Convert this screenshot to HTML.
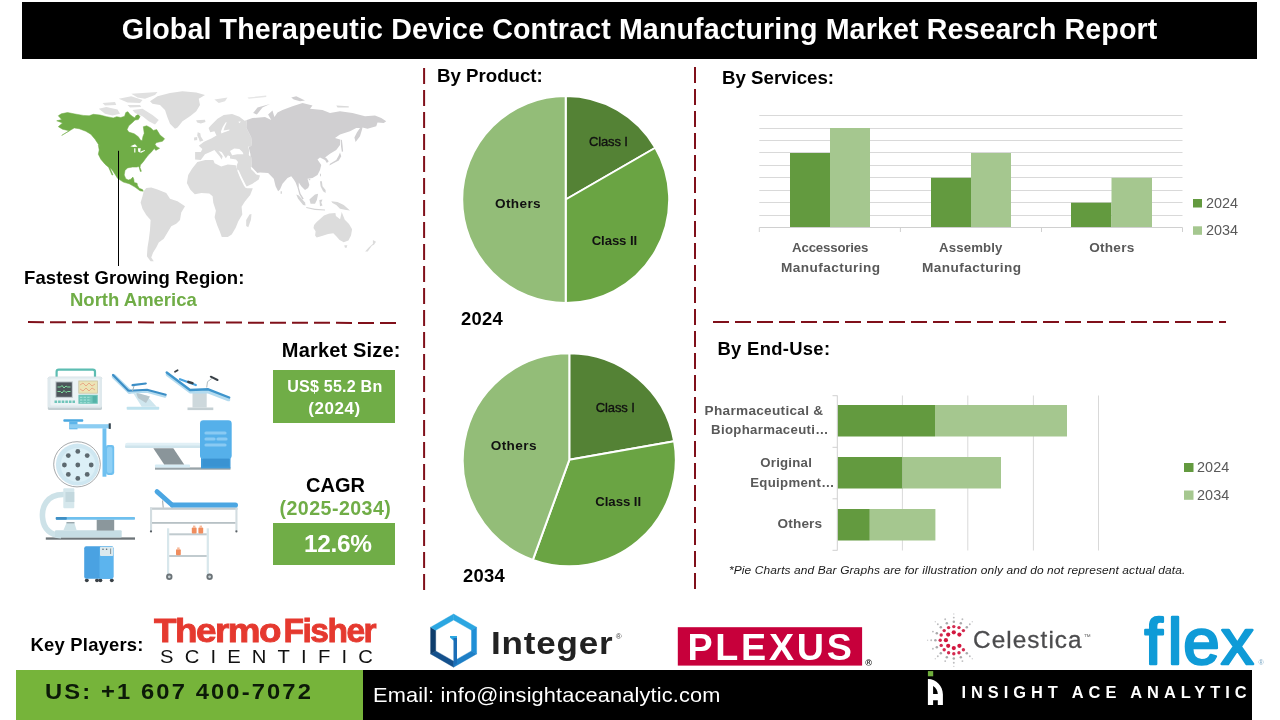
<!DOCTYPE html>
<html lang="en">
<head>
<meta charset="utf-8">
<title>Global Therapeutic Device Contract Manufacturing Market Research Report</title>
<style>
  html,body{margin:0;padding:0;background:#fff;}
  body{width:1280px;height:720px;position:relative;overflow:hidden;font-family:"Liberation Sans",sans-serif;color:#000;}
  .abs{position:absolute;white-space:nowrap;line-height:1;}
  svg{position:absolute;left:0;top:0;overflow:visible;}
  svg text{font-family:"Liberation Sans",sans-serif;}
</style>
</head>
<body>
<div class="abs" id="hdr" style="left:22px;top:2px;width:1235px;height:56.6px;background:#000;"></div>
<div class="abs" id="f_g" style="left:16px;top:669.8px;width:347px;height:50.2px;background:#76b43a;"></div>
<div class="abs" id="f_k" style="left:362.9px;top:669.8px;width:889px;height:50.2px;background:#000;"></div>
<div class="abs" id="box1" style="left:273.2px;top:370px;width:121.5px;height:52.6px;background:#70ad47;"></div>
<div class="abs" id="box2" style="left:273.2px;top:522.6px;width:121.5px;height:42.3px;background:#70ad47;"></div>
<svg id="gfx" width="1280" height="720" viewBox="0 0 1280 720">
  <!-- dashed separators -->
  <g stroke="#80101a" stroke-width="2" fill="none" stroke-dasharray="16 6">
    <line x1="424.1" y1="68.1" x2="424.1" y2="590.1"/>
    <line x1="695" y1="66.9" x2="695" y2="589"/>
    <line x1="28" y1="322.1" x2="396" y2="323"/>
    <line x1="713" y1="322" x2="1226" y2="322"/>
  </g>

  <!-- pie 2024 -->
  <g id="pie1" stroke="#fff" stroke-width="2" stroke-linejoin="round">
    <path d="M565.7,199.5 L565.7,96 A103.5,103.5 0 0 1 655.33,147.75 Z" fill="#548235"/>
    <path d="M565.7,199.5 L655.33,147.75 A103.5,103.5 0 0 1 565.7,303 Z" fill="#6aa443"/>
    <path d="M565.7,199.5 L565.7,303 A103.5,103.5 0 0 1 565.7,96 Z" fill="#93bd78"/>
  </g>
  <!-- pie 2034 -->
  <g id="pie2" stroke="#fff" stroke-width="2" stroke-linejoin="round">
    <path d="M569.3,459.8 L569.3,353.3 A106.5,106.5 0 0 1 674.18,441.31 Z" fill="#548235"/>
    <path d="M569.3,459.8 L674.18,441.31 A106.5,106.5 0 0 1 532.87,559.88 Z" fill="#6aa443"/>
    <path d="M569.3,459.8 L532.87,559.88 A106.5,106.5 0 0 1 569.3,353.3 Z" fill="#93bd78"/>
  </g>

  <!-- services bar chart -->
  <g stroke="#d9d9d9" stroke-width="1" fill="none">
    <path d="M759.3,115.5H1182.5M759.3,128.5H1182.5M759.3,140.5H1182.5M759.3,152.5H1182.5M759.3,165.5H1182.5M759.3,177.5H1182.5M759.3,190.5H1182.5M759.3,202.5H1182.5M759.3,215.5H1182.5"/>
  </g>
  <g>
    <rect x="790" y="153" width="40" height="74.5" fill="#639a3f"/>
    <rect x="830" y="128" width="40" height="99.5" fill="#a5c78f"/>
    <rect x="931" y="177.8" width="40" height="49.7" fill="#639a3f"/>
    <rect x="971" y="153" width="40" height="74.5" fill="#a5c78f"/>
    <rect x="1071" y="202.7" width="40.5" height="24.8" fill="#639a3f"/>
    <rect x="1111.5" y="177.8" width="40.5" height="49.7" fill="#a5c78f"/>
  </g>
  <path d="M759.3,232V227.5H1182.5V232M900.4,227.5V232M1041.5,227.5V232" stroke="#d0d0d0" stroke-width="1" fill="none"/>
  <rect x="1193" y="199" width="9" height="8.5" fill="#639a3f"/>
  <rect x="1193" y="226.3" width="9" height="8.5" fill="#a5c78f"/>

  <!-- end-use bar chart -->
  <path d="M902.4,395.5V550.5M967.8,395.5V550.5M1033.4,395.5V550.5M1098.5,395.5V550.5" stroke="#d9d9d9" stroke-width="1" fill="none"/>
  <g>
    <rect x="837.5" y="405" width="97.5" height="31.5" fill="#639a3f"/>
    <rect x="935" y="405" width="132" height="31.5" fill="#a5c78f"/>
    <rect x="837.5" y="457" width="65" height="31.5" fill="#639a3f"/>
    <rect x="902.5" y="457" width="98.5" height="31.5" fill="#a5c78f"/>
    <rect x="837.5" y="509" width="32.3" height="31.5" fill="#639a3f"/>
    <rect x="869.8" y="509" width="65.6" height="31.5" fill="#a5c78f"/>
  </g>
  <path d="M837.3,395.5V550.5M832.5,395.7H837.3M832.5,447.3H837.3M832.5,498.8H837.3M832.5,550.3H837.3" stroke="#d0d0d0" stroke-width="1" fill="none"/>
  <rect x="1184" y="463" width="9.5" height="9" fill="#639a3f"/>
  <rect x="1184" y="490.5" width="9.5" height="9.3" fill="#a5c78f"/>
</svg>
<svg id="map" width="1280" height="720" viewBox="0 0 1280 720">
<path d="M58.3,115.8 L61.3,113.8 L67.5,112.5 L75,114 L83.3,115.4 L89.2,115.8 L93.3,114.3 L100,115 L106.7,116.7 L113.3,117.9 L116.7,116.7 L120.8,117.5 L124.6,116.25 L125.8,112.5 L127.9,111.7 L130,114.6 L132.9,116.7 L135,117.9 L135.8,115.8 L138.3,114.6 L140,116.7 L138.3,119.6 L135,120 L132.5,122.5 L128.75,125.8 L127.1,129.6 L128.75,132.1 L134.2,133.75 L138.3,136.7 L140.4,140 L142.1,140.8 L142.9,136.7 L144.2,133.3 L143.3,126.7 L146.7,125.8 L150.8,127.9 L153.3,130.4 L156.7,129.6 L160,135 L164.6,138.75 L162.5,141.25 L156.7,142.5 L155,144.2 L156.7,146.7 L159.6,148.3 L155.8,150.4 L154.2,148.6 L151.7,151.7 L148.3,155 L145.8,158.3 L143.3,161.7 L140.4,165 L140,167.5 L141.4,171.3 L140.3,171.5 L138.9,166.4 L136.7,167.1 L132.5,167.1 L127.5,167.9 L125,170.4 L124.2,175 L125.8,178.75 L128.3,180 L130.8,179.2 L132.9,177.1 L133.75,179.2 L134.2,182.5 L137.1,183.3 L137.5,185.4 L139.2,188.3 L142.5,189.6 L143.3,191.25 L140,190.8 L135,187.1 L129.2,183.75 L123.3,182.1 L117.5,178.3 L115,174.2 L111.7,169.2 L109.6,167.5 L110.3,168.6 L113,174.9 L112,175 L108.6,167.3 L107.9,166.7 L105,164.2 L100.8,159.2 L98.3,154.2 L99.2,150 L98.3,145 L100,146.7 L98.3,144.2 L95,139.2 L90.8,134.2 L85.8,131.25 L79.2,128.75 L74.2,127.9 L70.8,130 L61.7,135.4 L69.2,130.8 L62.5,129.2 L58.3,126.7 L62.5,122.9 L56.7,120.8 L61.7,119.6Z" fill="#70ad47" stroke="#70ad47" stroke-width="0.5" stroke-linejoin="round"/>
<path d="M130.4,146.25 L135,144.2 L137.5,146.7 L133.3,147.1Z" fill="#fff"/>
<path d="M134.2,148.3 L135.4,148.3 L135.4,152.5 L134.2,152.5Z" fill="#fff"/>
<path d="M137.9,148.3 L140.8,148.3 L140,152.5 L138.3,151.7Z" fill="#fff"/>
<path d="M140,151.7 L144.6,150 L145,150.8 L140.8,152.9Z" fill="#fff"/>
<path d="M150,101.25 L157.5,96.25 L170,93.1 L182.5,91.25 L196.25,92.5 L205,95 L198.75,98.75 L200,105 L196.25,111.25 L190,116.25 L182.5,121.25 L177.5,127.5 L175,128.75 L170,123.75 L167.5,117.5 L165,110 L160,105 L152.5,103.75Z" fill="#dcdcdc"/>
<path d="M131.25,93.75 L157.5,91.9 L155,95 L145,98.75 L137.5,97.5Z" fill="#e0e0e0"/>
<path d="M132.5,110 L142.5,108.75 L152.5,115 L158.75,120 L155,124.4 L148.75,121.25 L142.5,116.25 L135,113.1Z" fill="#e0e0e0"/>
<path d="M98.75,108.75 L106.25,106.9 L117.5,109.4 L120,113.75 L112.5,115.6 L105,113.75Z" fill="#e0e0e0"/>
<path d="M102.5,103.1 L115,101.9 L116.25,105 L105,105.6Z" fill="#e0e0e0"/>
<path d="M118.75,98.75 L131.25,96.25 L142.5,100 L140,103.1 L127.5,102.5Z" fill="#e0e0e0"/>
<path d="M127.5,105 L140,105 L141.25,106.9 L130,107.5Z" fill="#e0e0e0"/>
<path d="M196.1,120.3 L205,119.8 L205.5,121.9 L200.8,123.4 L197.2,122.4Z" fill="#dcdcdc"/>
<path d="M214.4,99.4 L227.5,97.5 L225,101.25 L218.75,103.1Z" fill="#e2e2e2"/>
<path d="M208.6,128.1 L211.25,125 L217.5,118.75 L223.75,115.1 L232.1,114.1 L239.4,116.7 L244.6,120.8 L246.9,120 L246.25,127.5 L251.25,137.5 L251.9,145 L248.75,147.5 L251.25,157.5 L251.9,167.5 L250.6,167.5 L256.25,174.4 L260,175.6 L258.75,179.4 L252.5,183.75 L245.6,186.9 L243.75,183.75 L240,176.25 L237.7,171.1 L236.5,166.2 L238,162 L236,159.5 L230,158.5 L230,156.25 L227.9,155.2 L225.8,158.3 L221.7,152.1 L218.5,151 L222.7,156.25 L221.7,159.4 L219.6,156.25 L214.4,150 L210.2,152.1 L205,154.2 L200.8,159.9 L195.1,159.4 L195.1,152.1 L200.8,152.1 L202.4,149 L198.75,145.8 L204,141.7 L211.25,138.5 L216.5,135.4 L214.4,131.25 L210.2,132.3Z" fill="#dcdcdc"/>
<path d="M225.5,122.4 L226.8,122.2 L224.7,127 L223.5,130.4 L229.5,129.5 L229.3,130.6 L223.6,132.4 L221.4,133.6 L220.9,131.6 L222.7,127Z" fill="#fff"/>
<path d="M238.3,121.7 L240.8,121.3 L239.6,123.2Z" fill="#fff"/>
<path d="M230,151 L234.2,148.4 L239.4,149 L242.5,152.1 L243.5,154.2 L237.3,154.2 L232.1,155.2Z" fill="#fff"/>
<path d="M248.2,146.5 L250.3,147 L250.8,152 L250.2,156.5 L248.8,155 L249.2,151Z" fill="#fff"/>
<path d="M197.7,132.3 L200.3,133.3 L200.8,136.5 L203.4,140.6 L199.8,141.7 L198.75,138.5 L197.2,135.4Z" fill="#dcdcdc"/>
<path d="M194.1,137.5 L197.2,137 L197.2,140.1 L194.1,140.6Z" fill="#dcdcdc"/>
<path d="M253.1,113.1 L257.5,107.5 L270,104 L262.5,107.5 L256.9,114.4Z" fill="#d0cfd1"/>
<path d="M291.25,97.5 L296.25,96.25 L305,100.6 L300,101.25 L293.75,99.4Z" fill="#d0cfd1"/>
<path d="M336.25,105.6 L348.75,106.25 L348.75,107.5 L337.5,107.5Z" fill="#dadada"/>
<path d="M247.5,97.5 L266.25,95.6 L266.25,96.9 L248.75,98.75Z" fill="#e6e6e6"/>
<path d="M246.9,120 L252.5,118.1 L265,116.9 L271.25,120 L268.1,114.4 L272.5,110.6 L274.4,116.9 L277.5,112.5 L282.5,110 L292.5,106.25 L302.5,103.1 L312.5,105.6 L310,108.75 L322.5,110 L330,113.1 L340,111.25 L352.5,113.1 L365,116.25 L375,115.6 L381.25,118.1 L386.25,121.25 L383.75,123.1 L377.5,122.5 L376.25,126.25 L367.5,128.75 L362.5,127.5 L361.9,130 L360,136.25 L355.6,141.9 L354.4,137.5 L356.9,132.5 L360,128.1 L356.25,128.1 L350,131.25 L340,134.4 L335,138.1 L340,139.4 L340,145 L336.25,150 L330,153.75 L325,157.5 L326.25,158.1 L328.75,161.25 L326.9,163.1 L325,160 L320,157.5 L317.5,159.4 L321.25,165 L320,170 L317.5,175 L312.5,178 L307.5,178.75 L309.4,185 L308.1,188.1 L305,190 L301.25,186.25 L298.75,182.5 L298.75,187.5 L300.6,193.75 L303.75,198.75 L302.5,199.4 L299.4,194.4 L297.5,187.5 L295.6,182.5 L293.75,179.4 L291.25,176.25 L287.5,178.1 L282.5,183.75 L280,189.4 L278.1,191.25 L275.6,186.25 L273.75,178.75 L270.6,175.6 L268.1,173.1 L260,172.5 L256.5,173 L252.5,168.75 L251.9,167.5 L251.25,157.5 L248.75,147.5 L251.9,145 L251.25,137.5 L246.25,127.5Z" fill="#d0cfd1"/>
<path d="M340.6,139.4 L341.9,140 L342.5,145 L343.1,151.25 L341.9,151.9 L341,146.25Z" fill="#d0cfd1"/>
<path d="M340,152.5 L341.25,156.25 L338.75,160.6 L332.5,163.75 L329.4,165.6 L330,163.75 L336.25,160 L338.75,155.6Z" fill="#d0cfd1"/>
<path d="M280.6,191.25 L281.9,191.25 L281.9,193.75 L280.6,193.75Z" fill="#d4d4d5"/>
<path d="M296.25,194.4 L298.75,195.6 L305,202.5 L305.6,205.6 L303.1,205 L298.1,198.75Z" fill="#d4d4d5"/>
<path d="M306.25,206.9 L315,208.75 L325,209.4 L325,210.6 L315,210 L306.25,208.1Z" fill="#d4d4d5"/>
<path d="M309.4,199.4 L315,194.4 L318.1,193.75 L316.9,200 L315,203.75 L310.6,203.75Z" fill="#d4d4d5"/>
<path d="M319.4,200 L322.5,199.4 L321.25,202.5 L322.5,205.6 L320,206.25Z" fill="#d4d4d5"/>
<path d="M320,181.25 L321.9,181.25 L322.5,186.25 L325.6,190 L325.6,193.1 L323.1,191.25 L320.6,186.25Z" fill="#d4d4d5"/>
<path d="M320,173.75 L321,173.75 L321,176.25 L320,176.25Z" fill="#d4d4d5"/>
<path d="M308.75,178.75 L310.25,178.75 L310.25,180.25 L308.75,180.25Z" fill="#d4d4d5"/>
<path d="M331.25,201.25 L337.5,201.9 L343.75,205 L350,210.6 L346.25,210 L340,208.75 L336.25,205 L332.5,203.1Z" fill="#d8d8d8"/>
<path d="M314.1,225 L316.7,221.9 L324,215.6 L329.2,213.5 L335.4,213 L335.9,216.1 L340.1,219.3 L341.7,212 L344.8,219.8 L349,224 L352.1,229.2 L351,235.4 L348.4,240.6 L343.75,242.2 L339.6,240.1 L336.5,236.5 L333.3,233.3 L328.1,233.9 L321.9,235.9 L316.7,237.5 L315.1,235.4 L315.6,231.25 L313.5,228.1Z" fill="#dcdcdc"/>
<path d="M344.3,245.3 L347.4,245.3 L346.4,247.9 L344.8,247.4Z" fill="#dcdcdc"/>
<path d="M372.9,240.1 L376,241.7 L374,244.8 L371.9,245.8 L367.7,251.6 L365.1,251.6 L368.75,247.4 L372.9,243.75Z" fill="#dcdcdc"/>
<path d="M143.75,191.25 L146.25,188.1 L151.25,187.5 L157.5,189.4 L166.25,193.1 L170,198.75 L177.5,201.25 L185,206.25 L181.25,212.5 L180,220 L176.25,223.75 L171.25,226.25 L167.5,232.5 L163.75,238.75 L158.75,242.5 L156.25,247.5 L153.1,252.5 L151.25,257.5 L153.75,261.25 L150.6,261.25 L146.9,256.25 L147.5,247.5 L148.75,240 L150,230 L150.6,220 L146.25,215 L142.5,208.75 L140.6,202.5 L142.5,196.25Z" fill="#dcdcdc"/>
<path d="M197.4,161.9 L205.3,159.9 L213.3,159.9 L214.6,163.2 L221.2,166.5 L227.8,164.5 L235.7,165.2 L237.7,171.1 L241,177.7 L244.9,185.6 L246.9,188.3 L252.8,188.3 L250.2,194.9 L244.9,201.5 L241.6,206.7 L242.3,214.6 L238.3,221.2 L235.7,227.8 L231.7,234.4 L227.8,237.1 L221.8,237.1 L219.9,231.8 L217.2,225.2 L214.6,217.3 L215.9,210.7 L213.3,202.8 L212.6,196.2 L209.3,193.5 L201.4,192.9 L194.8,194.2 L190.2,189.6 L186.9,183 L188.2,175.1 L192.2,168.5Z" fill="#dcdcdc"/>
<path d="M249.5,214.6 L251.5,214 L250.9,219.9 L248.2,227.2 L246.2,225.9 L246.2,219.9Z" fill="#dcdcdc"/>
<path d="M237.2,170.5 L238.6,170 L241.8,177 L245.8,185 L247.2,187.6 L246,188.2 L244,185.8 L240.2,178Z" fill="#fff"/>
<path d="M250.8,167.2 L252.2,167.6 L257,172.6 L256.2,174 L251.5,169.5Z" fill="#fff"/>
<line x1="118.5" y1="150.8" x2="118.5" y2="266" stroke="#000" stroke-width="1"/>
</svg>
<svg id="devices" width="1280" height="720" viewBox="0 0 1280 720">
  <!-- patient monitor -->
  <g>
    <rect x="56.6" y="369.6" width="38.4" height="10" rx="2.2" fill="none" stroke="#5dbdb2" stroke-width="2.2"/>
    <rect x="47.8" y="376.7" width="54.2" height="33.4" rx="1.6" fill="#c3ced2"/>
    <rect x="47.8" y="376.7" width="54.2" height="31" rx="1.6" fill="#dfe9ed"/>
    <rect x="50.5" y="378.6" width="49" height="27" rx="1" fill="#ecf3f5"/>
    <rect x="55.4" y="381.4" width="17.4" height="16.4" fill="#b9c3c7"/>
    <rect x="56.4" y="382.4" width="15.4" height="14.4" fill="#4d545a"/>
    <path d="M57.5,387h3l1.5,-1.5l2,2.5l2,-2l1.5,1h3M57.5,391.5h3l1.5,1.5l2,-2.5l2,2l1.5,-1h3" stroke="#7fe0a0" stroke-width="1" fill="none"/>
    <rect x="78.4" y="380.6" width="19.4" height="13" fill="#c9c3a0"/>
    <rect x="79.2" y="381.4" width="17.8" height="11.4" fill="#ece4b6"/>
    <path d="M80,385l3,-2l3,3l3,-3l3,3l3,-2M80,389l3,2l3,-3l3,3l3,-3l3,2" stroke="#e79a7a" stroke-width="0.8" fill="none"/>
    <rect x="78.4" y="394.8" width="19.4" height="9" fill="#6fc5ba"/>
    <path d="M80,397.3h11M80,400h11M80,402.6h11" stroke="#9adcd3" stroke-width="1.3" stroke-dasharray="2.4 1.2"/>
    <rect x="92.6" y="396" width="4.2" height="6.8" fill="#54b3a8"/>
    <path d="M54.5,401.7h20.5" stroke="#6fc5ba" stroke-width="2.6" stroke-dasharray="2.6 1"/>
  </g>
  <!-- dental chair -->
  <g>
    <rect x="126.7" y="406.7" width="32.5" height="3" rx="0.8" fill="#bfe2ee"/>
    <path d="M133.3,393.3L146.7,395.8L156.7,406.7H141.7Z" fill="#cfe6ee"/>
    <path d="M136,392.5L150,396.5L146,403L138,398Z" fill="#b7c7cd"/>
    <path d="M114,376.5L129.5,391.5" stroke="#b4dbef" stroke-width="4.6" stroke-linecap="round"/>
    <path d="M113,375L128.5,390.8" stroke="#3c8ec6" stroke-width="2.2" stroke-linecap="round"/>
    <path d="M129.5,392.3L147,391.3L165,396.3" stroke="#b4dbef" stroke-width="3" fill="none" stroke-linecap="round" stroke-linejoin="round"/>
    <path d="M129,390.8L147,389.8L165.8,394.8" stroke="#3c8ec6" stroke-width="2" fill="none" stroke-linecap="round" stroke-linejoin="round"/>
    <path d="M132.5,385.2L145.8,383.5" stroke="#3c8ec6" stroke-width="2.2" stroke-linecap="round"/>
    <path d="M134,386L132.5,391" stroke="#9fb3bb" stroke-width="1"/>
  </g>
  <!-- gynecological chair -->
  <g>
    <rect x="187.5" y="407.5" width="25.8" height="2.6" fill="#c4cfd3"/>
    <rect x="192.5" y="390.8" width="14.2" height="16.8" fill="#cdd8dc"/>
    <path d="M167.5,374.5L190.5,391.8H208.5L228.5,399.5" stroke="#b4dbef" stroke-width="3.6" fill="none" stroke-linejoin="round" stroke-linecap="round"/>
    <path d="M166.7,372.5L190,390L208.3,389.3L229.2,397.5" stroke="#3f95cc" stroke-width="2.4" fill="none" stroke-linejoin="round" stroke-linecap="round"/>
    <path d="M180,379.2L195.8,385" stroke="#49a2de" stroke-width="2.2" stroke-linecap="round"/>
    <path d="M188.3,381.8L192.5,383.2" stroke="#3a4248" stroke-width="2.4" stroke-linecap="round"/>
    <path d="M175,371.8L177.6,370.2" stroke="#3a4248" stroke-width="1.8" stroke-linecap="round"/>
    <path d="M206.7,387.5L207.5,381.7L212.5,378" stroke="#a9b4b8" stroke-width="0.9" fill="none"/>
    <path d="M210.8,376.7L217.5,380" stroke="#3a4248" stroke-width="2" stroke-linecap="round"/>
  </g>
  <!-- surgical lamp -->
  <g>
    <rect x="63.3" y="419.2" width="20" height="2.6" rx="1" fill="#4aa8e0"/>
    <rect x="69.2" y="421.5" width="8.3" height="7.8" fill="#5db5ea"/>
    <rect x="69.2" y="424.2" width="40.5" height="4.2" fill="#8ccdf2"/>
    <rect x="108.7" y="423.3" width="2.1" height="5.6" fill="#33434d"/>
    <rect x="102.5" y="428.3" width="3.9" height="48.4" fill="#6fc0f0"/>
    <rect x="105.8" y="445" width="8.4" height="30" rx="2.4" fill="#6fc0f0"/>
    <rect x="107" y="447" width="5.4" height="26" rx="2" fill="#8fd0f5"/>
    <ellipse cx="77" cy="464.3" rx="23.3" ry="22.6" fill="#fff" stroke="#6a6f72" stroke-width="0.6"/>
    <ellipse cx="77.5" cy="464.6" rx="21.6" ry="21" fill="#cfe7f1"/>
    <ellipse cx="78" cy="465" rx="17.5" ry="17" fill="#dcf0f7"/>
    <g fill="#5d696f">
      <circle cx="77.8" cy="465" r="2.4"/><circle cx="77.8" cy="451.4" r="2.4"/><circle cx="77.8" cy="478.4" r="2.4"/>
      <circle cx="64.4" cy="465" r="2.4"/><circle cx="91.2" cy="465" r="2.4"/>
      <circle cx="68.3" cy="455.6" r="2.4"/><circle cx="87.2" cy="455.6" r="2.4"/>
      <circle cx="68.3" cy="474.4" r="2.4"/><circle cx="87.2" cy="474.4" r="2.4"/>
    </g>
  </g>
  <!-- scanner with table -->
  <g>
    <rect x="155" y="467.4" width="75.5" height="2.3" fill="#98a3a8"/>
    <rect x="155" y="464.6" width="35" height="2.9" rx="0.8" fill="#d6ecf5"/>
    <path d="M153.3,448.2H173.3L184.2,464.4H164.2Z" fill="#8a959a"/>
    <rect x="125" y="442.8" width="76" height="5.2" rx="2.4" fill="#e1f0f6"/>
    <rect x="125" y="445.6" width="76" height="2.4" rx="1.2" fill="#cfe4ec"/>
    <rect x="201" y="456" width="29.5" height="12.4" fill="#3e9ad9"/>
    <rect x="200" y="420.3" width="31.7" height="38.6" rx="3.4" fill="#55b0ea"/>
    <path d="M206,433h19M206,439h8M218,439h8M206,445h19" stroke="#9bd3f6" stroke-width="3.2" stroke-linecap="round" opacity=".75"/>
    <rect x="203" y="458.6" width="26" height="8" fill="#3a93d2"/>
  </g>
  <!-- C-arm x-ray -->
  <g>
    <rect x="45.8" y="537.4" width="89.2" height="2.3" fill="#6d7478"/>
    <path d="M64,494.5C46,494 41.5,508 42.6,518C43.5,529 51,535.5 61,535.6" stroke="#cde2e8" stroke-width="5.6" fill="none" stroke-linecap="butt"/>
    <rect x="55" y="530.3" width="66.7" height="7.2" rx="1" fill="#c6dde4"/>
    <path d="M63.3,530.4L66.7,522.5H74.2L76.7,530.4Z" fill="#cfe3e8"/>
    <rect x="66.5" y="522" width="8" height="1.4" fill="#9aa7ac"/>
    <rect x="96.7" y="519.6" width="17.5" height="11" fill="#8b979c"/>
    <rect x="55.8" y="517" width="79.2" height="2.8" rx="0.8" fill="#6fc0ee"/>
    <rect x="55.8" y="517" width="11" height="2.8" rx="0.8" fill="#3f8fc4"/>
    <rect x="63.3" y="488.3" width="11" height="20" rx="1" fill="#d5e7ec"/>
    <rect x="65.5" y="492" width="8.8" height="10" fill="#c3d8de"/>
  </g>
  <!-- oxygen concentrator -->
  <g>
    <g fill="#3a4146"><circle cx="86.8" cy="580.3" r="1.9"/><circle cx="97" cy="580.3" r="1.9"/><circle cx="100.4" cy="580.3" r="1.9"/><circle cx="111.8" cy="580.3" r="1.9"/></g>
    <rect x="84.2" y="546.3" width="29.2" height="32.4" rx="2" fill="#4aa2e2"/>
    <rect x="99.5" y="546.3" width="13.9" height="32.4" rx="2" fill="#5cb4ee"/>
    <rect x="100" y="546.8" width="13.2" height="9.2" rx="1" fill="#dbe9ee"/>
    <circle cx="103" cy="549.2" r="0.8" fill="#5d696f"/><circle cx="106.6" cy="549.2" r="0.8" fill="#5d696f"/>
    <path d="M110.6,548.5V554" stroke="#7d8a90" stroke-width="0.9"/>
  </g>
  <!-- examination couch -->
  <g>
    <rect x="150" y="507.5" width="87.5" height="2.3" fill="#c4ccd0"/>
    <rect x="150" y="507.5" width="2.1" height="23.4" fill="#d3dde1"/>
    <rect x="235.4" y="507.5" width="2.1" height="23.4" fill="#d3dde1"/>
    <rect x="152" y="522" width="83.4" height="1.8" fill="#b7c1c5"/>
    <circle cx="151" cy="531.4" r="1.1" fill="#5a6166"/><circle cx="236.4" cy="531.4" r="1.1" fill="#5a6166"/>
    <path d="M162.6,500.5L163.2,507.5" stroke="#8f9aa0" stroke-width="0.9"/>
    <path d="M157,491.6L171.8,504.8" stroke="#4ba6e2" stroke-width="4.8" stroke-linecap="round"/>
    <rect x="170" y="502.4" width="68" height="5.2" rx="2.6" fill="#4ba6e2"/>
  </g>
  <!-- trolley -->
  <g>
    <rect x="167" y="528.3" width="2.2" height="46" fill="#d8e7ec"/>
    <rect x="206.7" y="528.3" width="2.2" height="46" fill="#d8e7ec"/>
    <rect x="169.2" y="533.3" width="37.5" height="2" fill="#c1cbcf"/>
    <rect x="169.2" y="555" width="37.5" height="2" fill="#c1cbcf"/>
    <g fill="#f08d5e">
      <rect x="191.8" y="527.4" width="4.8" height="6" rx="1"/><rect x="198.4" y="527.4" width="4.8" height="6" rx="1"/><rect x="176" y="549.2" width="4.8" height="6" rx="1"/>
    </g>
    <g fill="#f7b99a">
      <rect x="193" y="525.6" width="2.4" height="2.2"/><rect x="199.6" y="525.6" width="2.4" height="2.2"/><rect x="177.2" y="547.4" width="2.4" height="2.2"/>
    </g>
    <circle cx="169.3" cy="576.8" r="3.2" fill="#6b7377"/><circle cx="169.3" cy="576.8" r="1.4" fill="#c9d2d6"/>
    <circle cx="209.6" cy="576.8" r="3.2" fill="#6b7377"/><circle cx="209.6" cy="576.8" r="1.4" fill="#c9d2d6"/>
  </g>
</svg>

<svg id="logos" width="1280" height="720" viewBox="0 0 1280 720">
<path d="M453.6,614.0 L476.6,627.3 L471.5,630.3 L453.6,620.0Z" fill="#2ba6e1" stroke="#2ba6e1" stroke-width="0.4"/>
<path d="M476.6,627.3 L476.6,653.9 L471.5,650.9 L471.5,630.3Z" fill="#1f8fd6" stroke="#1f8fd6" stroke-width="0.4"/>
<path d="M476.6,653.9 L453.6,667.2 L453.6,661.2 L471.5,650.9Z" fill="#1e7fc6" stroke="#1e7fc6" stroke-width="0.4"/>
<path d="M453.6,667.2 L430.6,653.9 L435.7,650.9 L453.6,661.2Z" fill="#14508c" stroke="#14508c" stroke-width="0.4"/>
<path d="M430.6,653.9 L430.6,627.3 L435.7,630.3 L435.7,650.9Z" fill="#0e3d6c" stroke="#0e3d6c" stroke-width="0.4"/>
<path d="M430.6,627.3 L453.6,614.0 L453.6,620.0 L435.7,630.3Z" fill="#2ba6e1" stroke="#2ba6e1" stroke-width="0.4"/>
<path d="M450,636H457V640.4H453.4L450,637.6Z" fill="#2ba6e1"/>
<path d="M453.5,638H457V663.5L453.5,665.5Z" fill="#1b6db6"/>
<rect x="677.8" y="627.2" width="184.3" height="38.4" fill="#c7003b"/>
<g fill="#d2173f"><circle cx="959.4" cy="634.6" r="2.1"/><circle cx="953.8" cy="632.3" r="2.1"/><circle cx="948.2" cy="634.6" r="2.1"/><circle cx="945.9" cy="640.2" r="2.1"/><circle cx="948.2" cy="645.8" r="2.1"/><circle cx="953.8" cy="648.1" r="2.1"/><circle cx="959.4" cy="645.8" r="2.1"/></g>
<g fill="#d42a50"><circle cx="963.4" cy="630.6" r="1.7"/><circle cx="959.0" cy="627.6" r="1.7"/><circle cx="953.8" cy="626.6" r="1.7"/><circle cx="948.6" cy="627.6" r="1.7"/><circle cx="944.2" cy="630.6" r="1.7"/><circle cx="941.2" cy="635.0" r="1.7"/><circle cx="940.2" cy="640.2" r="1.7"/><circle cx="941.2" cy="645.4" r="1.7"/><circle cx="944.2" cy="649.8" r="1.7"/><circle cx="948.6" cy="652.8" r="1.7"/><circle cx="953.8" cy="653.8" r="1.7"/><circle cx="959.0" cy="652.8" r="1.7"/><circle cx="963.4" cy="649.8" r="1.7"/></g>
<g fill="#a9a9ab"><circle cx="966.8" cy="627.2" r="1.25"/><circle cx="960.8" cy="623.2" r="1.25"/><circle cx="953.8" cy="621.8" r="1.25"/><circle cx="946.8" cy="623.2" r="1.25"/><circle cx="940.8" cy="627.2" r="1.25"/><circle cx="936.8" cy="633.2" r="1.25"/><circle cx="935.4" cy="640.2" r="1.25"/><circle cx="936.8" cy="647.2" r="1.25"/><circle cx="940.8" cy="653.2" r="1.25"/><circle cx="946.8" cy="657.2" r="1.25"/><circle cx="953.8" cy="658.6" r="1.25"/><circle cx="960.8" cy="657.2" r="1.25"/><circle cx="966.8" cy="653.2" r="1.25"/></g>
<g fill="#bdbdbf"><circle cx="969.8" cy="624.2" r="0.95"/><circle cx="962.4" cy="619.3" r="0.95"/><circle cx="953.8" cy="617.6" r="0.95"/><circle cx="945.2" cy="619.3" r="0.95"/><circle cx="937.8" cy="624.2" r="0.95"/><circle cx="932.9" cy="631.6" r="0.95"/><circle cx="931.2" cy="640.2" r="0.95"/><circle cx="932.9" cy="648.8" r="0.95"/><circle cx="937.8" cy="656.2" r="0.95"/><circle cx="945.2" cy="661.1" r="0.95"/><circle cx="953.8" cy="662.8" r="0.95"/><circle cx="962.4" cy="661.1" r="0.95"/><circle cx="969.8" cy="656.2" r="0.95"/></g>
<g fill="#cfcfd1"><circle cx="972.3" cy="621.7" r="0.7"/><circle cx="953.8" cy="614.0" r="0.7"/><circle cx="935.3" cy="621.7" r="0.7"/><circle cx="927.6" cy="640.2" r="0.7"/><circle cx="935.3" cy="658.7" r="0.7"/><circle cx="953.8" cy="666.4" r="0.7"/><circle cx="972.3" cy="658.7" r="0.7"/></g>
<rect x="927.9" y="671.1" width="5.3" height="5.2" fill="#6fae3c"/>
<path fill-rule="evenodd" fill="#fff" d="M927.9,705V678.9C936.5,679 942.9,686 942.9,694.5V705H937.8V700.3H933.1V705Z M933.1,694.1V685.9C936,687.8 937.8,690.8 937.8,694.1Z"/>
<text id="lg_fl" x="1144.5 1167.8 1183.3 1221.1" y="664.2" font-size="65.5" fill="#0f9bd7" stroke="#0f9bd7" stroke-width="2.6" stroke-linejoin="round" stroke-linecap="round">flex</text>
</svg>

<div class="abs" id="title" style="left:121.8px;top:14.5px;font-size:28.6px;font-weight:bold;color:#fff;letter-spacing:0.13px;">Global Therapeutic Device Contract Manufacturing Market Research Report</div>
<div class="abs" id="t_fgr" style="left:24.1px;top:268.9px;font-size:18.5px;font-weight:bold;color:#000;letter-spacing:0.06px;">Fastest Growing Region:</div>
<div class="abs" id="t_na" style="left:70.0px;top:290.9px;font-size:18.5px;font-weight:bold;color:#70ad47;">North America</div>
<div class="abs" id="t_ms" style="left:281.8px;top:340.2px;font-size:20px;font-weight:bold;color:#000;letter-spacing:0.18px;">Market Size:</div>
<div class="abs" id="t_us" style="left:287.2px;top:378.2px;font-size:16.1px;font-weight:bold;color:#fff;letter-spacing:0.20px;">US$ 55.2 Bn</div>
<div class="abs" id="t_y24" style="left:308.2px;top:399.9px;font-size:17px;font-weight:bold;color:#fff;letter-spacing:0.56px;">(2024)</div>
<div class="abs" id="t_cagr" style="left:305.9px;top:475.1px;font-size:20px;font-weight:bold;color:#000;letter-spacing:0.05px;">CAGR</div>
<div class="abs" id="t_rng" style="left:279.5px;top:499.0px;font-size:19.6px;font-weight:bold;color:#70ad47;letter-spacing:0.46px;">(2025-2034)</div>
<div class="abs" id="t_pct" style="left:304.0px;top:532.1px;font-size:24.4px;font-weight:bold;color:#fff;letter-spacing:-0.28px;">12.6%</div>
<div class="abs" id="t_bp" style="left:437.1px;top:67.0px;font-size:18.7px;font-weight:bold;color:#000;letter-spacing:-0.03px;">By Product:</div>
<div class="abs" id="t_2024" style="left:460.9px;top:309.7px;font-size:18.4px;font-weight:bold;color:#000;letter-spacing:0.30px;">2024</div>
<div class="abs" id="t_2034" style="left:462.9px;top:567.3px;font-size:18.4px;font-weight:bold;color:#000;letter-spacing:0.27px;">2034</div>
<div class="abs" id="p1a" style="left:589.1px;top:134.6px;font-size:13.0px;font-weight:normal;color:#111;letter-spacing:-0.16px;-webkit-text-stroke:0.35px #111;">Class I</div>
<div class="abs" id="p1b" style="left:591.7px;top:233.9px;font-size:13.2px;font-weight:bold;color:#111;letter-spacing:-0.11px;">Class II</div>
<div class="abs" id="p1c" style="left:495.1px;top:197.0px;font-size:13.6px;font-weight:bold;color:#111;letter-spacing:0.33px;">Others</div>
<div class="abs" id="p2a" style="left:595.7px;top:401.2px;font-size:13.0px;font-weight:normal;color:#111;letter-spacing:-0.09px;-webkit-text-stroke:0.35px #111;">Class I</div>
<div class="abs" id="p2b" style="left:595.3px;top:494.7px;font-size:13.2px;font-weight:bold;color:#111;letter-spacing:-0.06px;">Class II</div>
<div class="abs" id="p2c" style="left:490.7px;top:439.2px;font-size:13.6px;font-weight:bold;color:#111;letter-spacing:0.39px;">Others</div>
<div class="abs" id="t_bs" style="left:722.1px;top:68.8px;font-size:18.7px;font-weight:bold;color:#000;letter-spacing:-0.03px;">By Services:</div>
<div class="abs" id="c1a" style="left:792.1px;top:241.3px;font-size:13.2px;font-weight:bold;color:#595959;letter-spacing:-0.15px;">Accessories</div>
<div class="abs" id="c1b" style="left:780.9px;top:261.2px;font-size:13.6px;font-weight:bold;color:#595959;letter-spacing:0.46px;">Manufacturing</div>
<div class="abs" id="c2a" style="left:939.1px;top:241.3px;font-size:13.2px;font-weight:bold;color:#595959;letter-spacing:0.14px;">Assembly</div>
<div class="abs" id="c2b" style="left:922.0px;top:261.2px;font-size:13.6px;font-weight:bold;color:#595959;letter-spacing:0.46px;">Manufacturing</div>
<div class="abs" id="c3a" style="left:1089.2px;top:241.0px;font-size:13.6px;font-weight:bold;color:#595959;letter-spacing:0.25px;">Others</div>
<div class="abs" id="l1a" style="left:1206.0px;top:195.8px;font-size:14.4px;font-weight:normal;color:#595959;letter-spacing:0.02px;">2024</div>
<div class="abs" id="l1b" style="left:1206.0px;top:222.8px;font-size:14.4px;font-weight:normal;color:#595959;letter-spacing:0.02px;">2034</div>
<div class="abs" id="t_be" style="left:717.5px;top:339.7px;font-size:18.4px;font-weight:bold;color:#000;letter-spacing:0.32px;">By End-Use:</div>
<div class="abs" id="e1a" style="left:704.6px;top:404.3px;font-size:13.6px;font-weight:bold;color:#595959;letter-spacing:0.30px;">Pharmaceutical &amp;</div>
<div class="abs" id="e1b" style="left:711.1px;top:423.4px;font-size:13.2px;font-weight:bold;color:#595959;letter-spacing:0.32px;">Biopharmaceuti…</div>
<div class="abs" id="e2a" style="left:760.3px;top:456.3px;font-size:13.2px;font-weight:bold;color:#595959;letter-spacing:0.24px;">Original</div>
<div class="abs" id="e2b" style="left:750.2px;top:475.5px;font-size:13.2px;font-weight:bold;color:#595959;letter-spacing:0.32px;">Equipment…</div>
<div class="abs" id="e3a" style="left:777.6px;top:516.8px;font-size:13.6px;font-weight:bold;color:#595959;letter-spacing:0.13px;">Others</div>
<div class="abs" id="l2a" style="left:1197.0px;top:460.1px;font-size:14.4px;font-weight:normal;color:#595959;letter-spacing:0.12px;">2024</div>
<div class="abs" id="l2b" style="left:1197.0px;top:487.8px;font-size:14.4px;font-weight:normal;color:#595959;letter-spacing:0.12px;">2034</div>
<div class="abs" id="t_fn" style="left:728.6px;top:564.9px;font-size:11.4px;font-weight:normal;color:#1a1a1a;letter-spacing:0.10px;font-style:italic;transform:scaleX(1.05);transform-origin:0 0;">*Pie Charts and Bar Graphs are for illustration only and do not represent actual data.</div>
<div class="abs" id="t_kp" style="left:30.6px;top:635.8px;font-size:18.4px;font-weight:bold;color:#000;letter-spacing:0.22px;">Key Players:</div>
<div class="abs" id="t_ph" style="left:45.2px;top:681.4px;font-size:21.2px;font-weight:bold;color:#0c1a08;letter-spacing:1.90px;transform:scaleX(1.12);transform-origin:0 0;">US: +1 607 400-7072</div>
<div class="abs" id="t_em" style="left:372.8px;top:686.1px;font-size:19.8px;font-weight:normal;color:#fff;letter-spacing:0.13px;transform:scaleX(1.1);transform-origin:0 0;">Email: info@insightaceanalytic.com</div>
<div class="abs" id="t_ia" style="left:961.4px;top:683.7px;font-size:16.4px;font-weight:bold;color:#fff;letter-spacing:4.99px;">INSIGHT ACE ANALYTIC</div>
<div class="abs" id="lg_th" style="left:154.2px;top:613.8px;font-size:33.5px;font-weight:bold;color:#e5392f;letter-spacing:-1.38px;-webkit-text-stroke:0.9px #e5392f;transform:scaleX(1.1);transform-origin:0 0;">Thermo</div>
<div class="abs" id="lg_fi" style="left:283.4px;top:613.8px;font-size:33.5px;font-weight:bold;color:#e5392f;letter-spacing:-1.47px;-webkit-text-stroke:0.9px #e5392f;">Fisher</div>
<div class="abs" id="lg_sc" style="left:160.2px;top:648.3px;font-size:18.4px;font-weight:normal;color:#111;letter-spacing:10.14px;transform:scaleX(1.1);transform-origin:0 0;">SCIENTIFIC</div>
<div class="abs" id="lg_in" style="left:491.2px;top:628.2px;font-size:31px;font-weight:bold;color:#222;letter-spacing:0.72px;transform:scaleX(1.13);transform-origin:0 0;">Integer</div>
<div class="abs" id="lg_inr" style="left:615.8px;top:633.2px;font-size:8px;font-weight:normal;color:#444;">®</div>
<div class="abs" id="lg_pl" style="left:687.5px;top:628.5px;font-size:37.7px;font-weight:bold;color:#fff;letter-spacing:2.71px;">PLEXUS</div>
<div class="abs" id="lg_plr" style="left:865.2px;top:658.6px;font-size:9px;font-weight:bold;color:#222;">®</div>
<div class="abs" id="lg_ce" style="left:973.1px;top:628.2px;font-size:24.3px;font-weight:normal;color:#4c4c4e;letter-spacing:1.07px;-webkit-text-stroke:0.3px #4c4c4e;">Celestica</div>
<div class="abs" id="lg_cet" style="left:1083.8px;top:632.6px;font-size:7px;font-weight:normal;color:#666;">™</div>
<div class="abs" id="lg_flr" style="left:1258.5px;top:658.6px;font-size:7px;font-weight:normal;color:#7aa7c4;">®</div>
</body>
</html>
